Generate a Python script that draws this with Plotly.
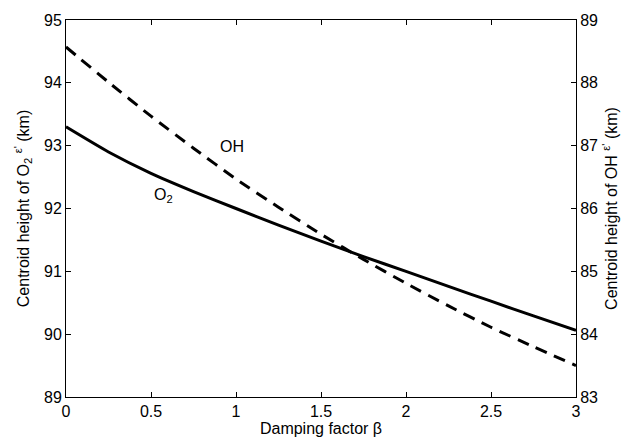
import plotly.graph_objects as go

beta = [0, 0.25, 0.5, 0.75, 1.0, 1.25, 1.5, 1.75, 2.0, 2.25, 2.5, 2.75, 3.0]
o2_height = [93.3, 92.9, 92.56, 92.27, 92.0, 91.735, 91.48, 91.235, 91.0, 90.76, 90.525, 90.29, 90.06]
oh_height = [88.57, 88.01, 87.47, 86.96, 86.47, 86.02, 85.59, 85.19, 84.81, 84.45, 84.11, 83.8, 83.5]

xticks = [0, 0.5, 1, 1.5, 2, 2.5, 3]
xtick_labels = ["0", "0.5", "1", "1.5", "2", "2.5", "3"]
left_ticks = [89, 90, 91, 92, 93, 94, 95]
right_ticks = [83, 84, 85, 86, 87, 88, 89]

font = dict(family="Liberation Sans, Arial, sans-serif", size=16, color="black")

fig = go.Figure()
fig.add_trace(go.Scatter(x=beta, y=o2_height, mode="lines",
                         line=dict(color="black", width=3, shape="spline", smoothing=0.6),
                         showlegend=False))
fig.add_trace(go.Scatter(x=beta, y=oh_height, mode="lines", yaxis="y2",
                         line=dict(color="black", width=3, dash="12px,8px", shape="spline", smoothing=0.6),
                         showlegend=False))

fig.add_annotation(x=0.976, y=92.99, text="OH", showarrow=False, font=font)
fig.add_annotation(x=0.574, y=92.21, text="O<sub>2</sub>", showarrow=False, font=font)

axis_common = dict(showgrid=False, zeroline=False, showline=True, linecolor="black", linewidth=1,
                   ticks="inside", ticklen=5, tickcolor="black", tickfont=font)

fig.update_layout(
    width=637, height=446,
    margin=dict(l=66, r=61, t=13, b=49),
    paper_bgcolor="white", plot_bgcolor="white",
    font=font,
    xaxis=dict(range=[0, 3], tickvals=xticks, ticktext=xtick_labels, mirror="ticks",
               title=dict(text="Damping factor β", font=font, standoff=2), **axis_common),
    yaxis=dict(range=[89, 95], tickvals=left_ticks, mirror=True,
               title=dict(text="Centroid height of O<sub>2</sub> <sup>ε'</sup> (km)", font=font, standoff=10),
               **axis_common),
    yaxis2=dict(range=[83, 89], tickvals=right_ticks, overlaying="y", side="right",
                title=dict(text="Centroid height of OH <sup>ε'</sup> (km)", font=font, standoff=8),
                **axis_common),
)

fig.write_html("out.html")
